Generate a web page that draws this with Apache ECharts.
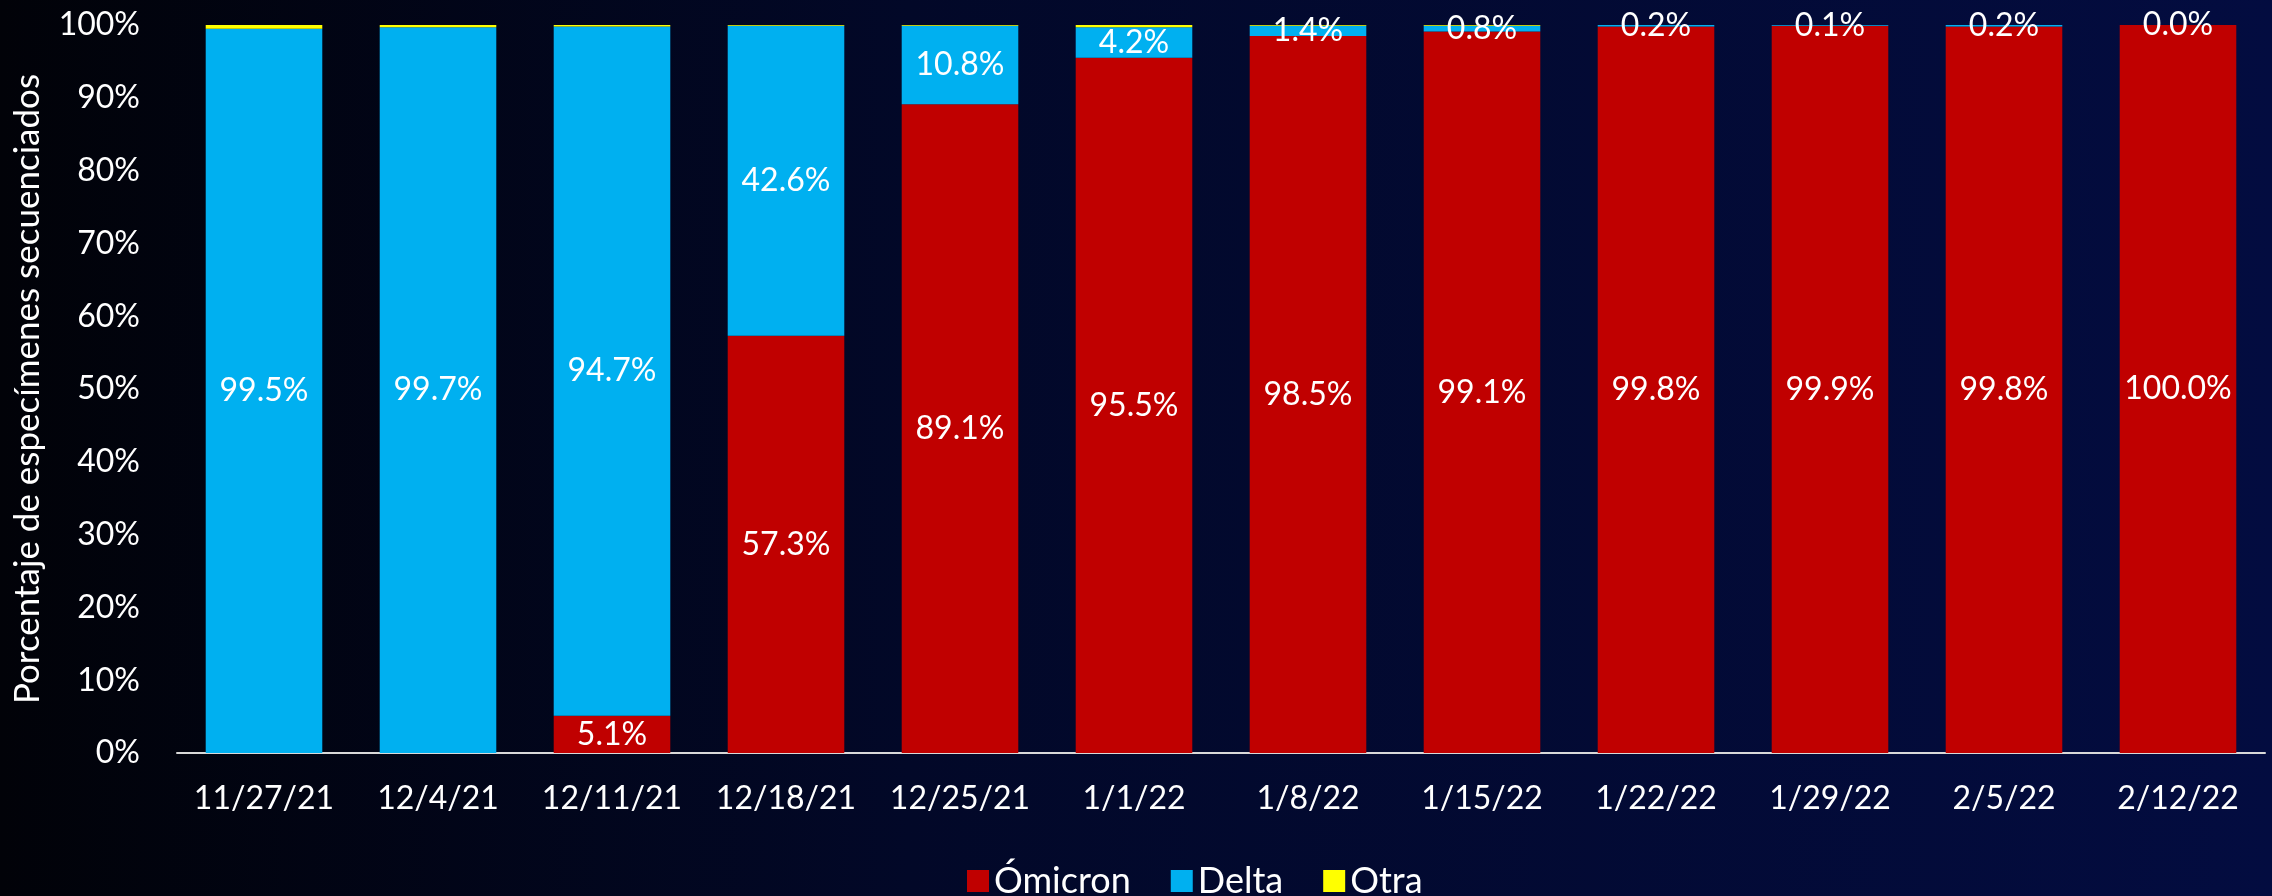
<!DOCTYPE html>
<html>
<head>
<meta charset="utf-8">
<script src="https://cdn.jsdelivr.net/npm/echarts@6/dist/echarts.min.js"></script>
<style>
  html, body { margin: 0; padding: 0; }
  #chart { width: 2272px; height: 896px; }
</style>
</head>
<body>
<div id="chart"></div>
<script>
// semanas
const weeks = ['11/27/21', '12/4/21', '12/11/21', '12/18/21', '12/25/21', '1/1/22', '1/8/22', '1/15/22', '1/22/22', '1/29/22', '2/5/22', '2/12/22']
// porcentajes por variante
const omicron = [0, 0, 5.1, 57.3, 89.1, 95.5, 98.5, 99.1, 99.8, 99.9, 99.8, 100.0]
const delta = [99.5, 99.7, 94.7, 42.6, 10.8, 4.2, 1.4, 0.8, 0.2, 0.1, 0.2, 0.0]
const otra = [0.5, 0.3, 0.2, 0.1, 0.1, 0.3, 0.1, 0.1, 0, 0, 0, 0]
const yTicks = [0, 10, 20, 30, 40, 50, 60, 70, 80, 90, 100]

const font = 'Lato'
const chart = echarts.init(document.getElementById('chart'))

const label = (hideZero) => ({
  show: true,
  position: 'inside',
  color: '#fff',
  fontFamily: font,
  fontSize: 32,
  formatter: p => (hideZero && p.value === 0) ? '' : p.value.toFixed(1) + '%'
})

chart.setOption({
  backgroundColor: {
    type: 'linear', x: 0, y: 0, x2: 1, y2: 0,
    colorStops: [
      { offset: 0, color: '#010208' },
      { offset: 0.4, color: '#020828' },
      { offset: 1, color: '#030c40' }
    ]
  },
  textStyle: { fontFamily: font },
  grid: { left: 177, right: 7, top: 25, bottom: 143 },
  legend: {
    left: 962,
    top: 858,
    itemWidth: 22,
    itemHeight: 22,
    itemGap: 40,
    icon: 'rect',
    textStyle: { color: '#fff', fontSize: 36, fontFamily: font },
    data: ['Ómicron', 'Delta', 'Otra']
  },
  xAxis: {
    type: 'category',
    data: weeks,
    axisLine: { lineStyle: { color: '#d9d9d9', width: 2 } },
    axisTick: { show: false },
    axisLabel: { color: '#fff', fontSize: 32, margin: 30, interval: 0 }
  },
  yAxis: {
    type: 'value',
    min: 0,
    max: 100,
    interval: 10,
    name: 'Porcentaje de especímenes secuenciados',
    nameLocation: 'middle',
    nameGap: 132,
    nameTextStyle: { color: '#fff', fontSize: 35, fontFamily: font },
    axisLine: { show: false },
    axisTick: { show: false },
    splitLine: { show: false },
    axisLabel: {
      color: '#fff', fontSize: 32, margin: 37,
      formatter: v => yTicks.includes(v) ? v + '%' : ''
    }
  },
  series: [
    {
      name: 'Ómicron', type: 'bar', stack: 'total', data: omicron,
      barCategoryGap: '33%',
      itemStyle: { color: '#c00000' },
      label: label(true)
    },
    {
      name: 'Delta', type: 'bar', stack: 'total', data: delta,
      itemStyle: { color: '#00b0f0' },
      label: label(false)
    },
    {
      name: 'Otra', type: 'bar', stack: 'total', data: otra,
      itemStyle: { color: '#ffff00' }
    }
  ]
})
</script>
</body>
</html>
